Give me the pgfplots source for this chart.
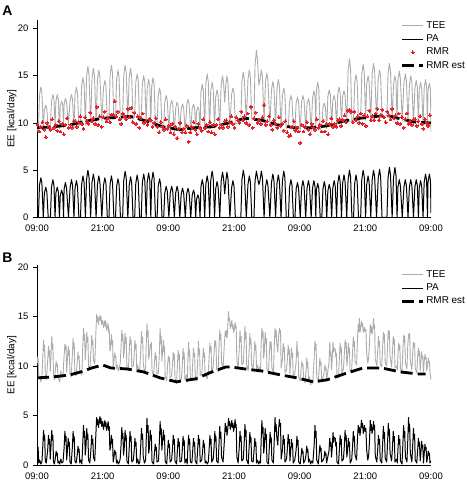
\documentclass[border=0pt]{standalone}
\usepackage{pgfplots}
\pgfplotsset{compat=1.18}
\usepackage{pgfplotstable}
\usepackage{fontspec}
\setmainfont{Liberation Sans}
\definecolor{teegray}{RGB}{172,172,172}
\definecolor{rmrred}{RGB}{228,32,38}

\pgfplotstableread{
t pa tee
0 0 9.4
0.25 0 9.1
0.45 3.4 12.9
0.7 4.2 13.8
0.9 3.6 13.2
1.15 0 9.6
1.35 2.6 11.4
1.6 3.2 11.9
1.8 2.7 11.5
2.05 0 9.3
2.45 0 9.7
2.65 3.2 12.3
2.9 4.0 13.0
3.1 3.4 12.5
3.3 0 9.8
3.45 2.6 12.3
3.7 3.2 13.0
3.9 2.7 12.5
4.1 0 9.4
4.25 2.3 11.8
4.5 2.9 12.3
4.7 2.5 11.9
4.85 0 9.5
4.95 3.0 12.0
5.2 3.7 12.6
5.4 3.1 12.2
5.75 0 9.9
6.05 3.2 12.4
6.3 4.0 13.0
6.5 3.4 12.5
6.75 0 9.4
6.95 3.1 13.0
7.2 3.9 13.8
7.4 3.3 13.2
7.65 0 9.7
7.95 0 10.0
8.15 3.5 13.9
8.4 4.4 14.8
8.6 3.7 14.1
8.85 0 9.8
9.05 4.0 14.8
9.3 5.0 16.0
9.5 4.3 15.1
9.8 0 10.0
10.05 3.7 14.7
10.3 4.6 15.8
10.5 3.9 15.0
10.8 0 10.1
11.05 3.5 14.6
11.3 4.4 15.6
11.5 3.7 14.8
11.85 0 10.2
12.15 3.4 13.7
12.4 4.2 14.5
12.6 3.6 13.9
12.85 0 10.3
13.15 0 10.6
13.35 3.5 15.0
13.6 4.4 16.1
13.8 3.7 15.3
14.05 0 10.4
14.35 0 10.7
14.55 3.3 14.6
14.8 4.1 15.6
15.0 3.5 14.8
15.25 0 10.2
15.65 0 10.6
15.85 3.9 15.0
16.1 4.9 16.1
16.3 4.2 15.3
16.6 0 10.5
16.85 3.4 14.8
17.1 4.3 15.8
17.3 3.7 15.0
17.55 0 10.4
17.85 0 10.7
18.05 3.6 14.3
18.3 4.5 15.2
18.5 3.8 14.5
18.75 0 10.2
19.05 0 10.5
19.25 3.7 14.1
19.5 4.6 15.0
19.7 3.9 14.3
19.95 0 10.1
20.15 3.8 13.7
20.4 4.7 14.6
20.6 4.0 13.9
20.8 0 10.0
20.95 3.8 13.8
21.2 4.8 14.8
21.4 4.1 14.1
21.65 0 9.7
21.95 0 10.0
22.15 3.3 12.9
22.4 4.1 13.7
22.6 3.5 13.1
22.85 0 9.5
23.15 0 9.8
23.35 2.6 12.2
23.6 3.3 12.9
23.8 2.8 12.4
24.1 0 9.3
24.35 2.6 11.8
24.6 3.3 12.4
24.8 2.8 12.0
25.1 0 9.0
25.35 2.6 11.6
25.6 3.3 12.2
25.8 2.8 11.8
26.1 0 9.1
26.35 2.5 11.5
26.6 3.1 12.0
26.8 2.6 11.6
27.1 0 8.8
27.35 2.5 11.9
27.6 3.1 12.5
27.8 2.6 12.0
28.1 0 9.0
28.35 2.3 11.5
28.6 2.9 12.0
28.8 2.5 11.6
29.0 0 9.2
29.15 1.9 11.2
29.4 2.4 11.7
29.6 2.0 11.4
29.8 0 9.3
29.95 3.2 13.2
30.2 4.0 14.1
30.4 3.4 13.4
30.65 0 9.6
30.85 3.5 14.1
31.1 4.4 15.2
31.3 3.7 14.4
31.55 0 9.4
31.75 3.9 13.4
32.0 4.9 14.3
32.2 4.2 13.6
32.45 0 9.5
32.65 3.0 12.7
32.9 3.8 13.5
33.1 3.2 12.9
33.4 0 9.6
33.65 3.8 14.0
33.9 4.8 15.0
34.1 4.1 14.2
34.3 2.5 12.2
34.5 3.8 14.0
34.7 4.8 15.0
34.9 4.1 14.2
35.25 0 9.6
35.55 3.1 13.0
35.8 3.9 13.7
36.0 3.3 13.2
36.25 0 9.9
37.25 0 10.1
37.45 4.0 14.4
37.7 5.0 15.4
37.9 4.3 14.6
38.25 0 10.2
38.55 3.5 14.6
38.8 4.4 15.6
39.0 3.7 14.8
39.25 0 10.3
39.65 0 10.6
39.85 3.9 16.2
40.1 4.9 17.7
40.3 4.2 16.6
40.55 3.5 14.0
40.75 3.9 14.6
41.0 4.9 15.6
41.2 4.2 14.8
41.5 0 10.0
41.75 3.2 14.3
42.0 4.0 15.3
42.2 3.4 14.5
42.55 0 9.9
42.85 3.7 13.5
43.1 4.6 14.4
43.3 3.9 13.7
43.6 0 9.7
43.85 3.6 13.6
44.1 4.5 14.6
44.3 3.8 13.9
44.6 0 9.5
44.85 3.9 12.9
45.1 4.9 13.7
45.3 4.2 13.1
45.55 0 9.4
45.95 0 9.8
46.15 3.2 12.2
46.4 4.0 12.9
46.6 3.4 12.4
46.85 0 9.3
47.15 0 9.6
47.35 3.0 12.1
47.6 3.7 12.7
47.8 3.1 12.2
48.1 0 9.2
48.35 3.1 12.2
48.6 3.9 12.9
48.8 3.3 12.4
49.1 0 9.4
49.35 3.1 12.0
49.6 3.9 12.6
49.8 3.3 12.1
50.1 0 9.1
50.35 3.1 12.6
50.6 3.9 13.4
50.8 3.3 12.8
50.95 0 9.6
51.05 2.9 13.4
51.3 3.6 14.3
51.5 3.1 13.6
51.75 0 9.3
52.05 0 9.6
52.25 3.0 11.6
52.5 3.8 12.1
52.7 3.2 11.7
52.95 0 9.4
53.15 2.8 12.8
53.4 3.5 13.5
53.6 3.0 13.0
53.85 0 9.7
54.05 3.1 12.3
54.3 3.9 12.9
54.5 3.3 12.4
54.75 0 9.6
54.95 3.6 13.0
55.2 4.5 13.8
55.4 3.8 13.2
55.65 0 9.9
55.85 3.6 12.8
56.1 4.5 13.4
56.3 3.8 12.9
56.6 0 10.0
56.85 4.0 15.5
57.1 5.0 16.8
57.3 4.3 15.8
57.55 0 10.1
57.85 0 10.4
58.05 3.6 14.2
58.3 4.5 15.1
58.5 3.8 14.4
58.75 0 10.2
59.15 0 10.5
59.35 4.0 15.1
59.6 5.0 16.2
59.8 4.3 15.4
60.05 0 10.3
60.25 3.5 14.1
60.5 4.4 15.0
60.7 3.7 14.3
61.0 0 10.4
61.25 4.0 15.2
61.5 5.0 16.3
61.7 4.3 15.5
62.05 0 10.5
62.35 4.1 14.6
62.6 5.1 15.6
62.8 4.3 14.9
63.05 0 10.6
63.95 0 10.8
64.15 4.2 15.2
64.4 5.3 16.3
64.6 4.5 15.5
64.9 0 10.5
65.15 4.2 14.1
65.4 5.3 15.0
65.6 4.5 14.3
65.8 0 10.3
65.95 3.2 14.5
66.2 4.0 15.5
66.4 3.4 14.7
66.75 0 10.2
67.05 3.2 14.2
67.3 4.0 15.2
67.5 3.4 14.5
67.8 0 10.0
68.05 3.2 14.0
68.3 4.0 15.0
68.5 3.4 14.3
68.8 0 9.9
69.05 3.2 13.6
69.3 4.0 14.5
69.5 3.4 13.8
69.7 0 9.8
69.85 3.1 13.5
70.1 3.9 14.3
70.3 3.3 13.6
70.55 0 9.7
70.75 3.7 13.7
71.0 4.6 14.6
71.2 3.9 13.9
71.35 0 9.8
71.45 3.7 13.4
71.7 4.6 14.2
71.9 3.9 13.6
72.0 0.5 9.0
}\topdata

\pgfplotstableread{
t r
0.1 9.8
0.4 9.1
0.7 9.6
1.0 10.1
1.3 9.3
1.6 8.5
1.9 10.0
2.2 9.6
2.5 9.3
2.8 10.4
3.1 9.5
3.4 9.8
3.7 9.2
4.0 10.2
4.3 9.1
4.6 9.9
4.9 8.8
5.2 9.8
5.5 10.5
5.8 9.5
6.1 9.8
6.4 9.5
6.7 10.2
7.0 10.2
7.3 9.6
7.6 10.1
7.9 10.7
8.2 9.9
8.5 9.4
8.8 10.6
9.1 10.2
9.4 9.9
9.7 11.1
10.0 10.2
10.3 10.5
10.6 9.9
10.9 11.7
11.2 9.8
11.5 10.7
11.8 9.6
12.1 10.6
12.4 11.2
12.7 10.2
13.0 10.5
13.3 10.1
13.6 10.9
13.9 10.9
14.2 12.3
14.5 10.7
14.8 11.2
15.1 10.4
15.4 9.9
15.7 11.0
16.0 10.7
16.3 10.4
16.6 11.5
16.9 10.6
17.2 11.6
17.5 10.1
17.8 11.1
18.1 9.9
18.4 10.7
18.7 9.5
19.0 10.5
19.3 11.0
19.6 10.0
19.9 10.2
20.2 9.8
20.5 10.4
20.8 10.3
21.1 9.6
21.4 10.0
21.7 10.5
22.0 9.6
22.3 9.0
22.6 10.1
22.9 9.6
23.2 9.3
23.5 10.4
23.8 9.4
24.1 9.7
24.4 9.0
24.7 9.9
25.0 8.8
25.3 9.6
25.6 8.4
25.9 9.4
26.2 10.0
26.5 9.0
26.8 9.4
27.1 9.0
27.4 9.7
27.7 8.0
28.0 9.0
28.3 9.6
28.6 10.1
28.9 9.3
29.2 8.8
29.5 9.9
29.8 9.5
30.1 9.2
30.4 10.4
30.7 9.5
31.0 9.8
31.3 9.1
31.6 10.1
31.9 9.0
32.2 9.8
32.5 8.8
32.8 9.8
33.1 10.4
33.4 9.5
33.7 9.8
34.0 9.5
34.3 10.2
34.6 10.3
34.9 9.6
35.2 10.1
35.5 10.7
35.8 9.9
36.1 9.5
36.4 10.6
36.7 10.3
37.0 10.0
37.3 11.2
37.6 10.3
37.9 10.7
38.2 10.0
38.5 11.0
38.8 9.8
39.1 11.7
39.4 9.5
39.7 10.5
40.0 11.1
40.3 10.0
40.6 10.3
40.9 9.9
41.2 10.6
41.5 11.9
41.8 9.8
42.1 10.2
42.4 10.7
42.7 9.8
43.0 9.3
43.3 10.3
43.6 9.9
43.9 9.5
44.2 10.6
44.5 9.7
44.8 9.9
45.1 9.2
45.4 10.2
45.7 9.0
46.0 8.6
46.3 8.7
46.6 9.6
46.9 10.2
47.2 9.2
47.5 9.5
47.8 9.1
48.1 7.9
48.4 9.8
48.7 9.1
49.0 9.6
49.3 10.1
49.6 9.3
49.9 8.8
50.2 9.9
50.5 9.5
50.8 9.3
51.1 10.4
51.4 9.5
51.7 9.8
52.0 9.1
52.3 10.2
52.6 9.1
52.9 9.9
53.2 8.8
53.5 9.9
53.8 10.5
54.1 9.6
54.4 9.9
54.7 9.6
55.0 10.3
55.3 10.4
55.6 9.7
55.9 10.3
56.2 10.8
56.5 10.1
56.8 11.3
57.1 11.4
57.4 11.2
57.7 10.1
58.0 11.2
58.3 10.3
58.6 10.7
58.9 10.0
59.2 11.0
59.5 9.9
59.8 10.8
60.1 9.7
60.4 10.7
60.7 11.3
61.0 10.3
61.3 10.7
61.6 10.3
61.9 11.0
62.2 11.5
62.5 10.3
62.8 10.8
63.1 11.4
63.4 10.6
63.7 10.1
64.0 11.2
64.3 10.8
64.6 10.4
64.9 11.5
65.2 10.5
65.5 10.8
65.8 10.0
66.1 11.0
66.4 9.9
66.7 10.6
67.0 9.5
67.3 10.4
67.6 11.0
67.9 9.9
68.2 10.2
68.5 9.8
68.8 10.4
69.1 10.4
69.4 9.7
69.7 10.2
70.0 10.7
70.3 9.9
70.6 9.4
70.9 10.4
71.2 10.0
71.5 9.7
71.8 10.8
}\topdots

\pgfplotstableread{
t r
0 9.5
3 9.6
6 9.8
9 10.2
12 10.5
15 10.6
17 10.7
20 10.2
23 9.6
26 9.3
29 9.5
32 9.6
35 10.0
38 10.5
41 10.3
44 9.8
47 9.5
50 9.5
53 9.7
56 10.2
59 10.5
62 10.7
64 10.8
66 10.5
69 10.1
72 10.0
}\topest

\pgfplotstableread{
t pa tee
0.0 2.0 11.0
0.1 1.4 10.3
0.2 1.8 10.8
0.32 0.2 9.0
0.5 0.5 9.0
0.7 0.1 8.4
0.9 0.3 8.9
1.05 1.8 10.8
1.2 3.5 12.6
1.3 2.5 11.5
1.4 3.0 12.1
1.52 0.4 9.0
1.7 0.2 8.6
1.95 1.5 10.5
2.1 3.0 12.0
2.2 2.1 11.0
2.3 2.6 11.6
2.42 0.6 9.4
2.55 1.8 10.9
2.7 3.5 13.0
2.8 2.5 11.7
2.9 3.0 12.2
3.02 0.3 9.1
3.17 0.1 8.6
3.35 0.7 9.6
3.5 1.4 10.5
3.6 1.0 10.0
3.7 1.2 10.2
3.82 0.2 9.0
3.95 0.4 8.7
4.15 0.1 8.4
4.35 0.6 9.5
4.55 0.2 8.8
4.75 0.3 9.1
4.95 1.7 11.0
5.1 3.4 12.2
5.2 2.4 11.6
5.3 2.9 12.1
5.42 0.5 9.4
5.55 1.4 10.6
5.7 2.7 12.0
5.8 1.9 11.1
5.9 2.3 11.6
6.02 0.3 9.2
6.25 0.1 8.9
6.45 1.7 11.0
6.6 3.4 12.8
6.7 2.4 11.8
6.8 2.9 12.3
6.92 0.4 9.4
7.15 0.2 9.0
7.35 1.0 10.4
7.5 1.9 11.4
7.6 1.3 10.7
7.7 1.6 11.0
7.82 0.2 9.4
8.0 0.5 9.5
8.2 0.1 9.1
8.35 2.0 11.7
8.5 4.0 13.8
8.6 2.8 12.6
8.7 3.4 13.2
8.82 1.0 10.6
8.95 1.9 11.7
9.1 3.7 13.4
9.2 2.6 12.4
9.3 3.1 12.9
9.42 0.5 10.0
9.65 0.2 9.6
9.85 1.5 11.4
10.0 3.0 13.1
10.1 2.1 12.1
10.2 2.6 12.6
10.32 0.8 10.6
10.55 0.4 10.2
10.75 3.0 13.2
10.9 4.8 15.2
11.0 4.1 14.5
11.1 4.6 15.0
11.22 3.8 14.2
11.35 4.3 14.7
11.5 4.9 15.1
11.6 4.2 14.6
11.7 4.7 15.0
11.82 3.9 14.2
12.0 4.4 14.6
12.15 3.6 13.9
12.4 4.5 14.6
12.5 3.9 14.0
12.6 4.3 14.5
12.72 3.5 13.6
12.85 3.8 13.8
13.0 4.4 14.3
13.1 3.5 13.4
13.2 3.9 13.7
13.32 1.5 11.5
13.45 1.8 11.8
13.6 3.0 13.2
13.7 2.2 12.2
13.8 2.6 12.6
13.92 0.3 10.0
14.05 0.7 10.4
14.2 1.5 11.3
14.3 1.1 10.9
14.4 1.3 11.0
14.52 0.2 9.7
14.65 0.5 10.1
14.85 0.1 9.5
15.05 0.3 9.9
15.2 0.6 10.2
15.35 1.9 11.8
15.5 3.8 13.6
15.6 2.7 12.6
15.7 3.2 13.2
15.82 1.0 10.8
15.95 1.8 11.6
16.1 3.5 13.3
16.2 2.5 12.3
16.3 3.0 12.9
16.42 0.4 10.0
16.7 0.1 9.6
16.85 1.7 11.4
17.0 3.4 13.0
17.1 2.4 12.2
17.2 2.9 12.6
17.32 0.3 9.9
17.6 0.5 10.0
17.75 1.4 11.1
17.9 2.7 12.6
18.0 1.9 11.7
18.1 2.3 12.2
18.22 0.2 9.7
18.4 0.6 10.1
18.6 0.1 9.4
18.8 0.3 9.8
18.95 1.9 11.5
19.1 3.7 13.5
19.2 2.6 12.3
19.3 3.1 12.9
19.42 0.8 10.3
19.65 0.2 9.3
19.85 0.5 9.8
19.95 2.4 12.0
20.1 4.7 14.3
20.2 3.3 12.9
20.3 4.0 13.6
20.42 1.2 10.7
20.55 1.8 11.2
20.7 3.5 12.2
20.8 2.5 11.8
20.9 3.0 12.4
21.02 0.3 9.5
21.3 0.1 9.0
21.45 1.1 10.2
21.6 2.1 11.4
21.7 1.5 10.7
21.8 1.8 11.0
21.92 0.3 9.2
22.2 0.4 9.3
22.35 2.2 11.2
22.5 4.4 13.8
22.6 3.1 12.3
22.7 3.7 13.0
22.82 1.5 10.5
22.95 2.5 11.5
23.1 3.5 12.6
23.2 2.5 11.4
23.3 3.0 12.0
23.42 0.4 9.0
23.7 0.1 8.5
23.85 1.3 10.0
24.0 2.5 11.0
24.1 1.8 10.5
24.2 2.1 10.9
24.32 0.3 8.8
24.6 0.5 9.0
24.75 1.5 10.1
24.9 3.0 11.4
25.0 2.1 10.6
25.1 2.6 11.2
25.22 0.4 8.8
25.5 0.1 8.2
25.65 1.4 9.9
25.8 2.7 11.6
25.9 1.9 10.6
26.0 2.3 11.2
26.12 0.3 8.6
26.4 0.4 8.7
26.55 1.5 10.1
26.7 2.9 11.8
26.8 2.0 10.7
26.9 2.5 11.3
27.02 0.2 8.6
27.3 0.6 9.1
27.45 0.1 8.4
27.55 1.5 10.3
27.7 3.0 12.4
27.8 2.1 11.0
27.9 2.6 11.6
28.02 0.3 8.8
28.3 0.2 8.6
28.45 1.4 10.2
28.6 2.7 11.8
28.7 1.9 10.9
28.8 2.3 11.3
28.92 0.4 9.0
29.2 0.1 8.5
29.35 1.5 10.4
29.5 3.0 12.5
29.6 2.1 11.2
29.7 2.6 11.7
29.82 0.3 9.0
30.1 0.5 9.2
30.25 1.3 10.4
30.4 2.5 11.8
30.5 1.8 10.9
30.6 2.1 11.3
30.72 0.2 8.9
30.9 0.4 9.1
31.1 0.1 8.7
31.3 0.3 9.3
31.45 1.5 10.9
31.6 3.0 12.3
31.7 2.1 11.5
31.8 2.6 12.0
31.92 0.3 9.4
32.2 0.6 9.9
32.35 1.7 11.3
32.5 3.4 12.6
32.6 2.4 12.0
32.7 2.9 12.5
32.82 0.4 9.7
33.1 0.2 9.4
33.25 2.0 11.8
33.4 3.9 13.6
33.5 2.7 12.6
33.6 3.3 13.2
33.72 0.8 10.4
34.0 0.3 9.8
34.25 2.5 12.3
34.4 4.2 13.5
34.5 3.4 13.0
34.6 3.9 13.6
34.72 3.0 12.8
34.85 3.6 13.8
35.0 4.7 15.5
35.1 4.0 14.6
35.2 4.4 14.8
35.32 3.6 13.8
35.45 3.9 14.1
35.6 4.5 14.6
35.7 3.8 13.8
35.8 4.2 14.2
35.92 3.4 13.4
36.05 3.8 13.6
36.2 4.6 14.4
36.3 3.8 13.8
36.4 4.1 14.0
36.52 0.8 10.6
36.75 0.2 9.8
36.95 1.7 11.6
37.1 3.4 13.6
37.2 2.4 12.4
37.3 2.9 13.0
37.42 0.4 10.1
37.7 0.6 10.3
37.85 2.1 11.9
38.0 4.1 14.0
38.1 2.9 12.7
38.2 3.5 13.4
38.32 0.5 10.1
38.6 0.1 9.5
38.75 1.7 11.4
38.9 3.3 13.3
39.0 2.3 12.2
39.1 2.8 12.7
39.22 0.4 10.0
39.5 0.3 9.8
39.65 1.4 11.0
39.8 2.7 12.5
39.9 1.9 11.6
40.0 2.3 12.1
40.12 0.2 9.7
40.3 0.5 10.1
40.5 0.1 9.4
40.7 0.4 9.9
40.85 0.2 9.6
40.95 2.3 12.0
41.1 4.5 13.8
41.2 3.2 12.9
41.3 3.8 13.5
41.42 1.2 10.8
41.55 1.9 11.5
41.7 3.7 13.4
41.8 2.6 12.3
41.9 3.1 12.8
42.02 0.3 9.7
42.3 0.1 9.3
42.45 1.7 11.1
42.6 3.3 12.5
42.7 2.3 11.8
42.8 2.8 12.4
42.92 0.5 9.8
43.2 0.2 9.3
43.35 2.4 11.9
43.5 4.8 13.8
43.6 3.4 12.9
43.7 4.1 13.6
43.82 2.8 12.3
44.0 2.0 11.4
44.15 3.6 13.0
44.3 4.6 13.8
44.4 3.9 13.4
44.5 4.2 13.6
44.62 0.6 9.8
44.85 1.5 10.7
45.0 3.0 12.3
45.1 2.1 11.4
45.2 2.6 11.9
45.32 0.3 9.3
45.6 0.6 9.6
45.75 1.6 10.7
45.9 3.1 12.1
46.0 2.2 11.2
46.1 2.6 11.7
46.22 0.4 9.2
46.35 1.3 10.3
46.5 2.6 11.8
46.6 1.8 10.9
46.7 2.2 11.3
46.82 0.2 8.9
47.1 0.5 9.2
47.35 1.5 10.4
47.5 2.9 12.5
47.6 2.0 11.0
47.7 2.5 11.5
47.82 0.3 8.9
48.1 0.1 8.5
48.25 0.9 9.7
48.4 1.7 10.5
48.5 1.2 10.0
48.6 1.4 10.2
48.72 0.2 8.7
49.0 0.5 8.3
49.15 1.0 9.5
49.3 1.9 10.8
49.4 1.3 9.9
49.5 1.6 10.4
49.62 0.3 8.4
49.8 0.6 8.9
50.0 0.1 8.1
50.2 0.4 8.6
50.4 0.2 8.3
50.65 2.0 10.8
50.8 4.0 12.5
50.9 2.8 11.6
51.0 3.4 12.2
51.12 0.5 8.9
51.4 0.1 8.3
51.55 1.0 9.6
51.7 2.0 10.8
51.8 1.4 10.1
51.9 1.7 10.4
52.02 0.3 8.6
52.3 0.5 8.9
52.45 0.7 9.3
52.6 1.4 10.1
52.7 1.0 9.6
52.8 1.2 9.9
52.92 0.2 8.6
53.35 1.4 10.3
53.5 2.7 12.4
53.6 1.9 11.0
53.7 2.3 11.4
53.82 0.8 9.6
53.95 1.7 10.7
54.1 3.3 12.4
54.2 2.3 11.4
54.3 2.8 11.8
54.5 2.7 11.7
54.6 1.9 10.9
54.7 2.3 11.3
54.82 0.3 9.0
55.1 0.1 8.8
55.25 1.5 10.7
55.4 3.0 12.3
55.5 2.1 11.4
55.6 2.6 11.9
55.72 0.4 9.3
56.0 0.6 9.7
56.15 1.8 11.1
56.3 3.5 12.6
56.4 2.5 11.9
56.5 3.0 12.4
56.62 0.8 10.0
56.75 1.4 10.8
56.9 2.7 12.3
57.0 1.9 11.3
57.1 2.3 11.8
57.22 0.2 9.4
57.5 0.5 9.7
57.65 1.7 11.2
57.8 3.4 12.9
57.9 2.4 12.0
58.0 2.9 12.5
58.12 1.0 10.5
58.4 0.5 10.1
58.55 2.5 12.4
58.7 4.0 14.2
58.8 3.3 13.5
58.9 3.8 14.8
59.02 3.0 13.4
59.15 3.6 13.8
59.3 4.5 14.5
59.4 3.8 14.0
59.5 4.2 14.3
59.62 3.2 13.4
59.75 3.6 13.6
59.85 4.0 13.9
59.95 3.4 13.5
60.1 3.7 13.7
60.25 1.5 11.3
60.45 0.5 10.3
60.6 0.9 10.8
60.75 2.3 12.2
60.9 4.5 14.2
61.0 3.5 13.4
61.1 4.1 14.0
61.22 3.2 13.2
61.35 3.5 13.6
61.5 4.4 14.8
61.6 3.6 13.8
61.7 4.0 14.1
61.82 0.9 10.7
62.1 0.3 10.0
62.25 1.5 11.4
62.4 3.0 13.0
62.5 2.1 12.0
62.6 2.6 12.5
62.72 0.5 10.2
63.0 0.2 9.9
63.15 2.0 11.8
63.3 3.9 13.4
63.4 2.7 12.6
63.5 3.3 13.2
63.62 0.7 10.4
63.9 0.3 10.0
64.05 2.1 11.9
64.2 4.2 13.6
64.3 3.0 12.8
64.4 3.6 13.5
64.52 1.2 10.9
64.8 0.4 9.9
64.95 1.7 11.4
65.1 3.4 13.0
65.2 2.4 12.2
65.3 2.9 12.7
65.42 0.3 9.8
65.7 0.6 10.0
65.85 0.2 9.6
65.95 1.5 11.0
66.1 3.0 12.3
66.2 2.1 11.6
66.3 2.6 12.1
66.42 0.4 9.7
66.7 0.1 9.3
66.85 2.0 11.4
67.0 4.0 13.1
67.1 2.8 12.4
67.2 3.4 13.0
67.32 0.8 10.3
67.6 0.3 9.7
67.75 2.4 12.0
67.9 4.8 13.2
68.0 3.4 12.8
68.1 4.1 13.3
68.22 1.2 10.6
68.5 0.3 9.6
68.65 1.9 11.3
68.8 3.7 12.4
68.9 2.6 11.9
69.0 3.1 12.3
69.12 0.5 9.8
69.4 0.2 9.3
69.55 1.4 10.8
69.7 2.7 11.8
69.8 1.9 11.0
69.9 2.3 11.5
70.02 0.4 9.5
70.15 1.2 10.5
70.3 2.4 11.4
70.4 1.7 10.8
70.5 2.0 11.0
70.62 0.2 9.4
70.75 1.1 10.4
70.9 2.1 11.2
71.0 1.5 10.7
71.1 1.8 10.9
71.22 0.3 9.5
71.35 0.7 10.0
71.5 1.4 10.8
71.6 1.0 10.3
71.7 1.2 10.5
71.82 0.2 9.3
72.0 0.4 8.6
}\botdata

\pgfplotstableread{
t r
0 8.8
3 8.9
6 9.1
8 9.4
10 9.8
12 10.1
13.5 9.8
16.5 9.7
19.5 9.4
22.5 8.8
25.5 8.4
29 8.7
31.5 9.3
34.5 9.9
35.5 9.9
38 9.7
41 9.5
44.5 9.1
47.5 8.8
50.5 8.4
53 8.6
54 8.8
56.7 9.3
59.6 9.8
63 9.8
66.4 9.4
69.5 9.2
71 9.2
}\botest

\pgfplotsset{
  eeaxis/.style={
    scale only axis,
    width=394bp,
    xmin=0, xmax=72,
    ymin=0,
    axis lines*=left,
    axis line style={line width=0.8bp, black},
    tick align=outside,
    major tick length=3.5bp,
    tick style={line width=0.8bp, black},
    x tick style={draw=none},
    xtick={0,12,24,36,48,60,72},
    xticklabels={09:00,21:00,09:00,21:00,09:00,21:00,09:00},
    ytick={0,5,10,15,20},
    /pgf/number format/assume math mode=true,
    ticklabel style={font=\fontsize{9.5}{11}\selectfont},
    yticklabel style={xshift=-1.5bp},
    xticklabel style={yshift=-0.5bp},
    ylabel={EE [kcal/day]},
    ylabel style={font=\fontsize{10}{12}\selectfont, at={(axis description cs:-0.064,0.5)}, anchor=center, rotate=0},
    legend style={draw=none, fill=none, font=\fontsize{10}{12}\selectfont,
      inner sep=0pt, row sep=2.6bp, column sep=1bp,
      nodes={inner sep=0.6bp, text height=7.4bp, text depth=2bp},
      cells={anchor=west}},
    legend image code/.code={\draw[mark repeat=2,mark phase=2,#1] plot coordinates {(0bp,0bp) (10.5bp,0bp) (21bp,0bp)};},
  },
  teestyle/.style={teegray, line width=0.9bp, line join=round},
  pastyle/.style={black, line width=1.0bp, line join=round},
  eststyle/.style={black, line width=2.8bp, dash pattern=on 12bp off 5bp},
}

\begin{document}
\begin{tikzpicture}[x=1bp,y=1bp]
\path[use as bounding box] (0bp,0bp) rectangle (467bp,483bp);

\begin{axis}[eeaxis,
  at={(37bp,265.5bp)}, anchor=south west,
  height=197.5bp, ymax=20.9,
  legend style={at={(axis description cs:0.923,0.998)}, anchor=north west}]
\addplot[teestyle] table[x=t,y=tee]{\topdata};
\addlegendentry{TEE}
\addplot[pastyle] table[x=t,y=pa]{\topdata};
\addlegendentry{PA}
\addplot[rmrred, only marks, mark=*, mark size=1.45bp, mark options={draw=rmrred, fill=rmrred, line width=0pt}] table[x=t,y=r]{\topdots};
\addlegendentry{RMR}
\addplot[eststyle] table[x=t,y=r]{\topest};
\addlegendentry{RMR est}
\end{axis}

\begin{axis}[eeaxis,
  at={(37bp,18bp)}, anchor=south west,
  height=200bp, ymax=20.2,
  legend style={at={(axis description cs:0.923,0.978)}, anchor=north west}]
\addplot[teestyle] table[x=t,y=tee]{\botdata};
\addlegendentry{TEE}
\addplot[pastyle] table[x=t,y=pa]{\botdata};
\addlegendentry{PA}
\addplot[eststyle] table[x=t,y=r]{\botest};
\addlegendentry{RMR est}
\end{axis}

\node[font=\bfseries\fontsize{14}{16}\selectfont] at (7.5bp,472bp) {A};
\node[font=\bfseries\fontsize{14}{16}\selectfont] at (7.5bp,225bp) {B};
\end{tikzpicture}
\end{document}
